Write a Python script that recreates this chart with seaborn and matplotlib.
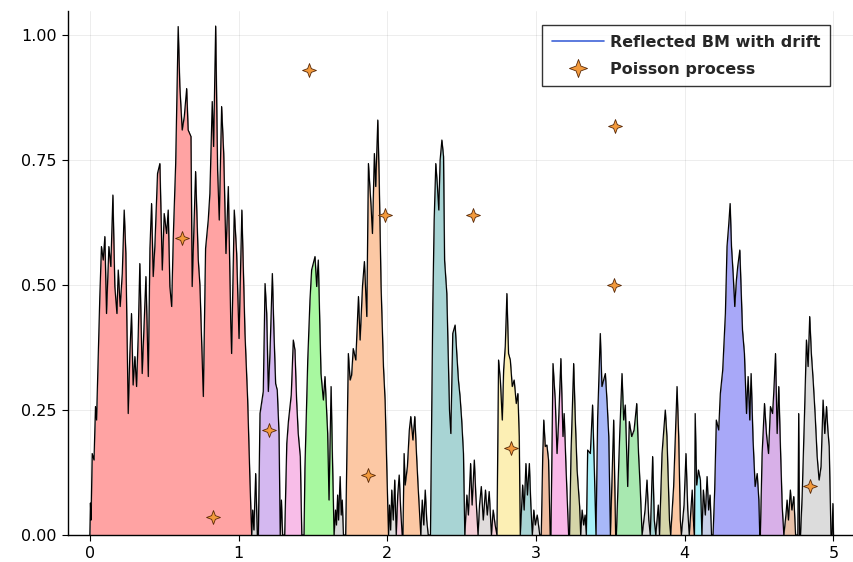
import numpy as np
import pandas as pd
import matplotlib
matplotlib.use("Agg")
import matplotlib.pyplot as plt
from matplotlib.lines import Line2D
from matplotlib.path import Path
import seaborn as sns

# ---------------- data ----------------
# Reflected Brownian motion path (time, value); one line per excursion
path_t = [
    0.000,0.004,0.008,0.016,0.028,0.038,0.045,0.067,0.078,0.090,0.101,0.112,0.128,0.141,0.155,0.168,0.182,0.191,0.204,0.218,0.231,0.242,0.258,0.269,0.280,0.291,0.303,0.314,0.325,0.336,0.352,0.366,0.377,0.393,0.404,0.415,0.426,0.437,0.455,0.471,0.487,0.500,0.516,0.527,0.538,0.550,0.561,0.577,0.594,0.605,0.621,0.635,0.651,0.661,0.680,0.688,0.711,0.729,0.740,0.763,0.778,0.796,0.807,0.823,0.832,0.846,0.859,0.870,0.886,0.900,0.915,0.931,0.947,0.953,0.971,0.987,1.003,1.022,1.043,1.061,1.077,1.088,
    1.095,1.103,1.115,1.126,
    1.133,1.144,1.166,1.178,1.189,1.200,1.211,1.227,1.238,1.249,1.260,1.272,1.280,
    1.288,1.296,
    1.310,1.324,1.335,1.354,1.368,1.379,1.390,1.401,1.415,1.425,
    1.440,1.446,1.465,1.480,1.491,1.514,1.525,1.536,1.554,1.570,1.581,1.599,1.608,1.622,1.630,1.642,
    1.652,1.658,1.666,1.672,1.683,1.690,1.697,1.705,
    1.720,1.738,1.750,1.760,1.771,1.788,1.806,1.817,1.833,1.846,1.862,1.873,1.891,1.900,1.913,1.922,1.936,1.945,1.958,1.974,1.985,1.996,2.008,
    2.015,2.022,2.030,2.040,2.050,2.060,
    2.070,2.080,2.090,2.100,
    2.105,2.113,2.120,2.135,2.148,2.158,2.172,2.185,2.196,2.207,2.225,
    2.235,2.245,2.255,2.265,2.275,
    2.290,2.306,2.315,2.326,2.337,2.346,2.355,2.367,2.378,2.385,2.400,2.418,2.427,2.440,2.456,2.467,2.478,2.489,2.500,2.512,2.521,
    2.535,2.545,2.560,2.570,2.585,2.595,2.610,
    2.620,2.632,2.645,2.660,2.672,2.685,2.700,
    2.712,2.725,2.737,
    2.748,2.760,2.773,2.782,2.793,2.804,2.815,2.827,2.840,2.853,2.867,2.878,2.887,2.894,
    2.910,2.920,2.932,2.942,2.955,2.965,2.975,
    2.985,2.995,3.008,3.025,
    3.035,3.045,3.052,3.062,3.073,3.084,3.095,
    3.100,3.114,3.129,3.141,3.152,3.167,3.181,3.189,3.202,3.219,
    3.225,3.235,3.253,3.264,3.276,3.293,3.300,
    3.310,3.320,3.330,3.338,
    3.347,3.365,3.380,3.392,3.403,
    3.414,3.432,3.443,3.466,3.478,3.489,3.500,
    3.522,3.535,
    3.540,3.562,3.578,3.589,3.600,3.616,3.627,3.643,3.659,3.677,3.689,3.700,3.713,
    3.733,3.746,3.758,3.768,
    3.784,3.795,3.805,
    3.822,3.830,
    3.847,3.869,3.880,3.897,3.905,
    3.925,3.948,3.959,3.970,3.977,
    3.995,4.008,4.020,4.030,
    4.050,4.058,4.065,
    4.070,4.080,4.092,4.105,4.115,
    4.125,4.138,4.150,4.160,4.170,4.180,
    4.190,4.201,4.212,4.228,4.239,4.255,4.273,4.284,4.296,4.305,4.314,4.325,4.336,4.347,4.356,4.370,4.379,4.388,4.401,4.415,4.426,4.437,4.446,4.459,4.473,4.487,4.498,4.504,
    4.508,4.520,4.536,4.549,4.563,4.576,4.590,4.598,4.610,4.621,4.632,4.643,4.655,4.666,
    4.680,4.688,4.697,4.710,4.720,4.733,4.745,
    4.760,4.766,4.772,
    4.778,4.789,4.805,4.818,4.829,4.840,4.851,4.863,4.876,4.890,4.903,4.916,4.930,4.941,4.953,4.962,4.971,4.983,
    4.990,4.996,5.000,
]
path_y = [
    0.000,0.064,0.030,0.163,0.150,0.257,0.230,0.477,0.577,0.550,0.597,0.443,0.577,0.537,0.680,0.497,0.443,0.530,0.457,0.523,0.650,0.563,0.243,0.363,0.443,0.300,0.357,0.297,0.397,0.543,0.323,0.430,0.517,0.317,0.573,0.663,0.517,0.577,0.723,0.743,0.530,0.643,0.603,0.650,0.497,0.457,0.597,0.743,1.017,0.897,0.810,0.837,0.893,0.810,0.797,0.497,0.727,0.550,0.500,0.277,0.573,0.630,0.683,0.867,0.777,1.018,0.730,0.630,0.857,0.763,0.563,0.697,0.430,0.363,0.650,0.563,0.393,0.650,0.403,0.270,0.103,0.000,
    0.050,0.010,0.123,0.000,
    0.000,0.243,0.287,0.503,0.443,0.287,0.363,0.523,0.403,0.303,0.290,0.203,0.000,
    0.070,0.000,
    0.000,0.183,0.227,0.280,0.390,0.370,0.270,0.203,0.157,0.000,
    0.000,0.133,0.350,0.470,0.530,0.557,0.497,0.550,0.323,0.270,0.317,0.203,0.070,0.297,0.170,0.000,
    0.050,0.020,0.080,0.030,0.117,0.040,0.070,0.000,
    0.000,0.363,0.310,0.320,0.373,0.350,0.477,0.390,0.497,0.547,0.437,0.743,0.657,0.603,0.763,0.697,0.830,0.717,0.497,0.337,0.270,0.137,0.000,
    0.060,0.010,0.090,0.030,0.110,0.000,
    0.080,0.120,0.050,0.000,
    0.000,0.163,0.100,0.137,0.210,0.237,0.190,0.237,0.163,0.097,0.000,
    0.070,0.020,0.090,0.030,0.000,
    0.000,0.463,0.630,0.743,0.697,0.650,0.750,0.790,0.757,0.550,0.483,0.250,0.203,0.403,0.420,0.363,0.310,0.277,0.230,0.163,0.000,
    0.080,0.040,0.143,0.060,0.150,0.080,0.000,
    0.060,0.097,0.030,0.090,0.040,0.087,0.000,
    0.050,0.020,0.000,
    0.350,0.310,0.230,0.330,0.377,0.483,0.363,0.350,0.297,0.310,0.263,0.283,0.197,0.000,
    0.100,0.050,0.143,0.080,0.143,0.060,0.000,
    0.050,0.020,0.040,0.000,
    0.000,0.160,0.230,0.177,0.180,0.150,0.000,
    0.000,0.343,0.270,0.163,0.230,0.353,0.197,0.243,0.130,0.000,
    0.000,0.163,0.343,0.230,0.130,0.057,0.000,
    0.050,0.020,0.040,0.000,
    0.170,0.163,0.260,0.130,0.000,
    0.233,0.403,0.297,0.323,0.263,0.197,0.000,
    0.230,0.000,
    0.000,0.197,0.323,0.230,0.260,0.097,0.227,0.197,0.210,0.263,0.163,0.097,0.000,
    0.050,0.110,0.030,0.000,
    0.157,0.030,0.000,
    0.060,0.000,
    0.163,0.250,0.197,0.030,0.000,
    0.097,0.297,0.197,0.030,0.000,
    0.060,0.163,0.050,0.000,
    0.090,0.030,0.000,
    0.243,0.100,0.130,0.110,0.000,
    0.090,0.040,0.117,0.050,0.080,0.000,
    0.000,0.090,0.230,0.210,0.283,0.330,0.443,0.577,0.623,0.663,0.577,0.523,0.457,0.510,0.537,0.570,0.490,0.410,0.363,0.243,0.317,0.230,0.323,0.190,0.097,0.123,0.070,0.000,
    0.000,0.163,0.263,0.203,0.163,0.257,0.243,0.283,0.363,0.203,0.297,0.177,0.057,0.000,
    0.040,0.070,0.030,0.090,0.050,0.077,0.000,
    0.000,0.243,0.000,
    0.000,0.077,0.243,0.390,0.337,0.437,0.363,0.310,0.243,0.157,0.110,0.137,0.270,0.203,0.257,0.210,0.177,0.000,
    0.000,0.063,0.000,
]

# excursion start times and fill colours (each excursion runs to the next start)
exc_start = [0.000, 1.088, 1.126, 1.280, 1.296, 1.425, 1.642, 1.705, 2.008, 2.060,
             2.100, 2.225, 2.275, 2.521, 2.610, 2.700, 2.737, 2.894, 2.975, 3.025,
             3.095, 3.219, 3.300, 3.338, 3.403, 3.500, 3.535, 3.713, 3.768, 3.805,
             3.830, 3.905, 3.977, 4.030, 4.065, 4.115, 4.180, 4.504, 4.666, 4.745,
             4.772, 4.983]
exc_color = ['#ffa3a3', '#d8d8d8', '#d4b8f0', '#e0d0d0', '#f8bde8', '#a8f8a0', '#d8d8d8', '#fcc8a4', '#dddddd', '#f5c8d8',
             '#fcc8a4', '#dddddd', '#a8d4d4', '#f5d0d8', '#e0dcdc', '#f5d0d8', '#fcefb4', '#a8d4d4', '#dddddd', '#eebca0',
             '#f8b8e8', '#d4d4a8', '#dddddd', '#a8f0f8', '#a8b8f8', '#fcc8a4', '#a8e8b0', '#dddddd', '#a8d4d4', '#dddddd',
             '#d4d4a8', '#fcc8a4', '#dddddd', '#eebca0', '#a8f0f8', '#c8d0e8', '#a8a8f8', '#d8b0e8', '#e8c0a8', '#f5c8e0',
             '#dcdcdc', '#dcdcdc']

# Poisson process points
poisson_t = [0.619, 0.828, 1.205, 1.474, 1.871, 1.985, 2.577, 2.833, 3.533, 3.526, 4.845]
poisson_y = [0.594, 0.036, 0.210, 0.930, 0.120, 0.640, 0.640, 0.174, 0.818, 0.500, 0.098]

x_ticks = [0, 1, 2, 3, 4, 5]
x_tick_labels = ["0", "1", "2", "3", "4", "5"]
y_ticks = [0.00, 0.25, 0.50, 0.75, 1.00]
y_tick_labels = ["0.00", "0.25", "0.50", "0.75", "1.00"]

legend_labels = ["Reflected BM with drift", "Poisson process"]

# ---------------- plotting ----------------
if len(path_t) != len(path_y):
    raise ValueError(f"path lengths differ: {len(path_t)} vs {len(path_y)}")

sns.set_theme(style="white")
plt.rcParams["font.family"] = ["DejaVu Sans"]

W, H = 854, 562
fig = plt.figure(figsize=(W / 100, H / 100), dpi=100)
ax = fig.add_axes([67.5 / W, (H - 535) / H, (W - 67.5) / W, (535 - 10.5) / H])

df = pd.DataFrame({"t": path_t, "y": path_y})
tt = df["t"].to_numpy()
yy = df["y"].to_numpy()

ends = exc_start[1:] + [tt.max()]
for s, e, c in zip(exc_start, ends, exc_color):
    m = (tt >= s - 1e-9) & (tt <= e + 1e-9)
    ax.fill_between(tt[m], 0, yy[m], color=c, linewidth=0.4, edgecolor="#666666", zorder=1)

sns.lineplot(data=df, x="t", y="y", ax=ax, color="black", linewidth=0.85,
             sort=False, estimator=None, zorder=2, legend=False)

# four-pointed star marker shape
ang = np.deg2rad(np.arange(0, 360, 45) + 90)
rad = np.where(np.arange(8) % 2 == 0, 1.0, 0.38)
star_verts = np.column_stack([rad * np.cos(ang), rad * np.sin(ang)])
star_verts = np.vstack([star_verts, star_verts[:1]])
star = Path(star_verts, closed=True)

pdf = pd.DataFrame({"t": poisson_t, "y": poisson_y})
sns.scatterplot(data=pdf, x="t", y="y", ax=ax, marker=star, s=100,
                color="#f39a3c", edgecolor="#5a2a08", linewidth=0.6, zorder=4, legend=False)

ax.set_xlim(-0.15, 5.138)
ax.set_ylim(0, 1.049)
ax.set_xticks(x_ticks)
ax.set_xticklabels(x_tick_labels)
ax.set_yticks(y_ticks)
ax.set_yticklabels(y_tick_labels)
ax.set_xlabel("")
ax.set_ylabel("")

ax.grid(True, color="#000000", alpha=0.07, linewidth=0.7)
ax.set_axisbelow(True)
for side in ["top", "right"]:
    ax.spines[side].set_visible(False)
for side in ["left", "bottom"]:
    ax.spines[side].set_color("black")
    ax.spines[side].set_linewidth(1.0)
ax.tick_params(axis="both", direction="out", length=4, width=0.8, colors="black",
               labelsize=11.5, pad=4, bottom=True, left=True)

handles = [
    Line2D([0], [0], color="#4063D8", linewidth=1.2),
    Line2D([0], [0], marker=star, linestyle="none", markersize=13,
           markerfacecolor="#f39a3c", markeredgecolor="#5a2a08", markeredgewidth=0.6),
]
leg = fig.legend(handles, legend_labels, loc="upper right",
                 bbox_to_anchor=(830 / W, (H - 25) / H), borderaxespad=0,
                 frameon=True, fancybox=False, handlelength=3.25, handletextpad=0.375,
                 borderpad=0.6, labelspacing=0.75,
                 prop={"weight": "bold", "size": 11.5})
leg.get_frame().set_edgecolor("black")
leg.get_frame().set_linewidth(1.0)

fig.savefig("out.png", dpi=100)
